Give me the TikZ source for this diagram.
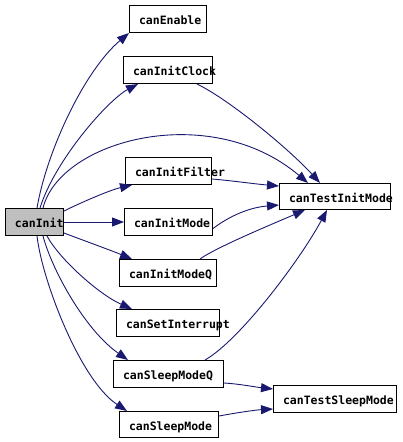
\documentclass[tikz,border=0pt]{standalone}
\usepackage{fontspec}
\newfontfamily\boxfont{DejaVu Sans Mono}
\usetikzlibrary{arrows.meta}
\definecolor{edgecol}{RGB}{25,25,112}
\definecolor{mainfill}{RGB}{191,191,191}
\begin{document}
\begin{tikzpicture}[x=1pt,y=-1pt,
  box/.style={draw=black, line width=1pt, fill=white, anchor=north west,
    inner xsep=9.5pt, inner ysep=0pt, minimum height=27pt, align=left,
    text height=11pt, text depth=0pt,
    font=\boxfont\bfseries\fontsize{11.5pt}{12pt}\selectfont},
  edge/.style={draw=edgecol, line width=0.9pt,
    -{Triangle[length=12pt,width=9pt]}}]
\useasboundingbox (0,0) rectangle (402,442);
% nodes
\node[box, fill=mainfill, text width=39pt] (init) at (5,208) {canInit};
\node[box, text width=58pt] (enable) at (129,5) {canEnable};
\node[box, text width=70pt] (clock) at (123,56) {canInitClock};
\node[box, text width=67pt] (filter) at (125,157) {canInitFilter};
\node[box, text width=92pt, minimum height=26pt] (tim) at (279,183) {canTestInitMode};
\node[box, text width=69pt] (mode) at (124,208) {canInitMode};
\node[box, text width=78pt] (modeq) at (119,259) {canInitModeQ};
\node[box, text width=84pt] (setint) at (116,309) {canSetInterrupt};
\node[box, text width=91pt] (sleepq) at (113,360) {canSleepModeQ};
\node[box, text width=104pt] (tsm) at (273,385) {canTestSleepMode};
\node[box, text width=80pt, minimum height=26pt] (sleep) at (119,411) {canSleepMode};
% edges from canInit
\draw[edge] ([xshift=32pt]init.north west) .. controls (47,150) and (85,70) .. (enable.south west);
\draw[edge] ([xshift=35pt]init.north west) .. controls (55,160) and (108,100) .. ([xshift=15pt]clock.south west);
\draw[edge] ([xshift=38pt]init.north west) .. controls (60,140) and (210,100) .. ([xshift=29pt]tim.north west);
\draw[edge] ([yshift=-3pt]init.north east) .. controls (80,203) and (110,190) .. ([xshift=7pt]filter.south west);
\draw[edge] (init.east) -- (mode.west);
\draw[edge] ([yshift=3pt]init.south east) .. controls (85,241) and (110,250) .. ([xshift=13pt]modeq.north west);
\draw[edge] ([xshift=42pt]init.south west) .. controls (60,260) and (100,295) .. ([xshift=16pt]setint.north west);
\draw[edge] ([xshift=38pt]init.south west) .. controls (52,270) and (85,330) .. ([xshift=15pt]sleepq.north west);
\draw[edge] ([xshift=32pt]init.south west) .. controls (42,280) and (80,380) .. ([xshift=8pt]sleep.north west);
% edges to canTestInitMode
\draw[edge] ([xshift=74pt]clock.south west) .. controls (230,100) and (290,150) .. ([xshift=41pt]tim.north west);
\draw[edge] ([yshift=6pt]filter.south east) .. controls (235,181) and (255,184) .. ([yshift=-3pt]tim.north west);
\draw[edge] ([yshift=-6.5pt]mode.east) .. controls (235,212) and (255,207) .. ([yshift=5pt]tim.south west);
\draw[edge] ([xshift=81pt]modeq.north west) .. controls (215,248) and (270,225) .. ([xshift=26pt]tim.south west);
\draw[edge] ([xshift=92pt]sleepq.north west) .. controls (240,340) and (300,260) .. ([xshift=48pt]tim.south west);
% edges to canTestSleepMode
\draw[edge] ([yshift=5pt]sleepq.south east) .. controls (240,384) and (255,387) .. ([yshift=-4pt]tsm.north west);
\draw[edge] ([yshift=-5pt]sleep.north east) .. controls (235,413) and (255,410) .. ([yshift=4pt]tsm.south west);
\end{tikzpicture}
\end{document}
